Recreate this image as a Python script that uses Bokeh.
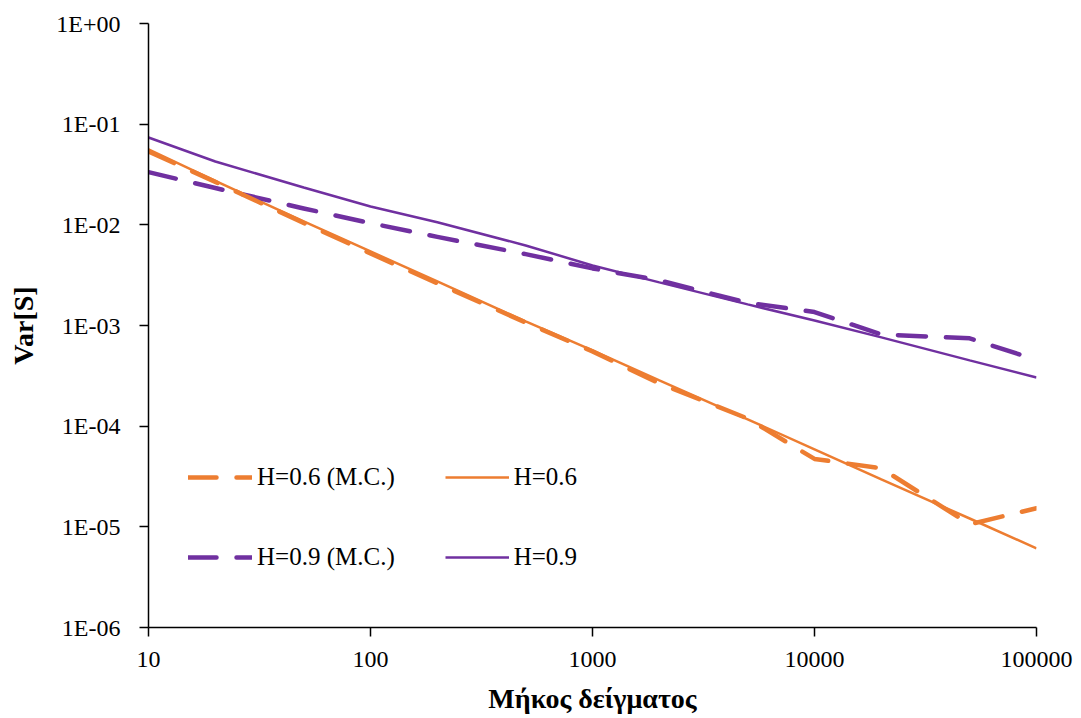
from bokeh.plotting import figure
from bokeh.models import Range1d, FixedTicker, Legend, LegendItem
from bokeh.embed import file_html
from bokeh.resources import INLINE

# Data
n_values = [10, 20, 50, 100, 200, 500, 1000, 2000, 5000, 10000, 20000, 50000, 100000]
var_h06_mc = [0.0536, 0.0267, 0.01045, 0.00520, 0.00262, 0.00107, 5.53e-4, 2.66e-4,
              1.19e-4, 4.73e-5, 3.81e-5, 1.06e-5, 1.53e-5]
var_h06 = [0.0561, 0.0273, 0.0108, 0.00544, 0.00274, 0.00110, 5.66e-4, 2.85e-4,
           1.17e-4, 5.88e-5, 2.96e-5, 1.21e-5, 6.12e-6]
var_h09_mc = [0.0334, 0.0232, 0.01455, 0.0104, 0.00759, 0.00512, 0.00369, 0.00281,
              0.00168, 0.00136, 8.16e-4, 7.45e-4, 4.55e-4]
var_h09 = [0.0738, 0.0426, 0.0235, 0.0152, 0.0106, 0.00624, 0.00395, 0.00268,
           0.00162, 0.00112, 7.62e-4, 4.5e-4, 3.05e-4]

x_ticks = [10, 100, 1000, 10000, 100000]
x_tick_labels = ["10", "100", "1000", "10000", "100000"]
y_ticks = [1e-6, 1e-5, 1e-4, 1e-3, 1e-2, 1e-1, 1.0]
y_tick_labels = ["1E-06", "1E-05", "1E-04", "1E-03", "1E-02", "1E-01", "1E+00"]

series_labels = ["H=0.6 (M.C.)", "H=0.6", "H=0.9 (M.C.)", "H=0.9"]
x_title = "Μήκος δείγματος"
y_title = "Var[S]"

ORANGE = "#ED7D31"
PURPLE = "#7030A0"
FONT = "Liberation Serif"

p = figure(x_axis_type="log", y_axis_type="log",
           x_range=Range1d(10, 100000), y_range=Range1d(1e-6, 1.0),
           frame_width=888, frame_height=604,
           output_backend="svg", toolbar_location=None)
p.min_border_left = 148
p.min_border_top = 23
p.min_border_right = 37
p.min_border_bottom = 83
p.outline_line_color = None
p.xgrid.visible = False
p.ygrid.visible = False
p.background_fill_color = "white"
p.border_fill_color = "white"

r_h09 = p.line(n_values, var_h09, line_color=PURPLE, line_width=2.5)
r_h06 = p.line(n_values, var_h06, line_color=ORANGE, line_width=2.5)
r_h09_mc = p.line(n_values, var_h09_mc, line_color=PURPLE, line_width=4.5,
                  line_dash="28 20", line_cap="round", line_join="round")
r_h06_mc = p.line(n_values, var_h06_mc, line_color=ORANGE, line_width=4.5,
                  line_dash="28 20", line_cap="round", line_join="round")

for ax, ticks, labels in ((p.xaxis[0], x_ticks, x_tick_labels), (p.yaxis[0], y_ticks, y_tick_labels)):
    ax.ticker = FixedTicker(ticks=ticks, minor_ticks=[])
    ax.major_label_overrides = {t: l for t, l in zip(ticks, labels)}
    ax.axis_line_color = "black"
    ax.axis_line_width = 1.5
    ax.major_tick_line_color = "black"
    ax.major_tick_line_width = 1.5
    ax.major_tick_out = 9
    ax.major_tick_in = 0
    ax.minor_tick_out = 0
    ax.minor_tick_in = 0
    ax.major_label_text_font = FONT
    ax.major_label_text_font_size = "24px"
    ax.major_label_text_color = "black"
    ax.axis_label_text_font = FONT
    ax.axis_label_text_font_size = "28px"
    ax.axis_label_text_font_style = "bold"
    ax.axis_label_text_color = "black"

p.xaxis.axis_label = x_title
p.yaxis.axis_label = y_title
p.yaxis.major_label_standoff = 19
p.xaxis.major_label_standoff = 15
p.yaxis.axis_label_standoff = 14
p.xaxis.axis_label_standoff = 13


def make_legend(items, loc):
    lg = Legend(items=items, location=loc, orientation="horizontal",
                label_text_font=FONT, label_text_font_size="25px",
                label_text_color="black", glyph_width=64, glyph_height=20,
                label_height=20, label_standoff=5, spacing=50, padding=0,
                margin=0, border_line_color=None, background_fill_alpha=0)
    return lg


leg1 = make_legend([LegendItem(label=series_labels[0], renderers=[r_h06_mc]),
                    LegendItem(label=series_labels[1], renderers=[r_h06])], (40, 136))
leg2 = make_legend([LegendItem(label=series_labels[2], renderers=[r_h09_mc]),
                    LegendItem(label=series_labels[3], renderers=[r_h09])], (40, 56))
p.add_layout(leg1, "center")
p.add_layout(leg2, "center")

open("out.html", "w").write(file_html(p, INLINE))
